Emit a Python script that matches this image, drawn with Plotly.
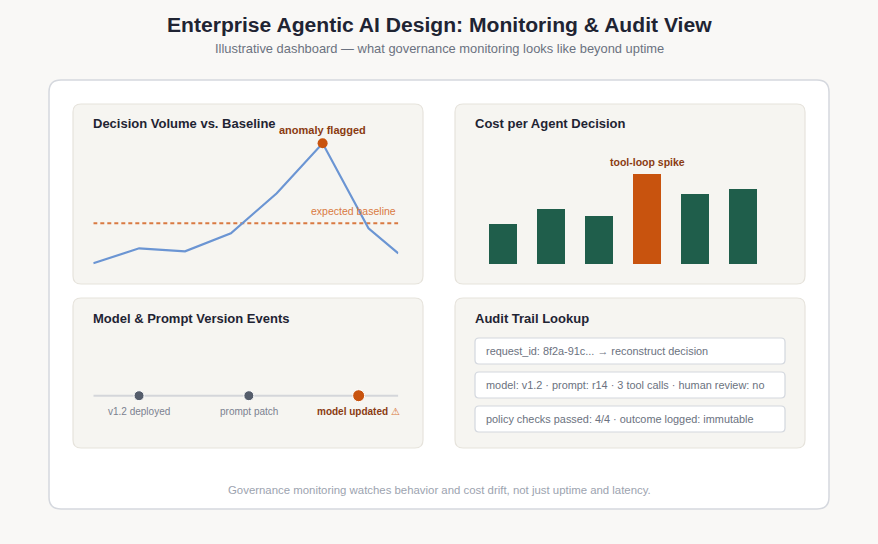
import plotly.graph_objects as go

# ---- data ----
hours = [0, 1, 2, 3, 4, 5, 6, 6.65]
decisions = [20, 35, 32, 50, 90, 140, 55, 30]
baseline = 60
anomaly_idx = 5

periods = ["W1", "W2", "W3", "W4", "W5", "W6"]
cost_per_decision = [0.40, 0.55, 0.48, 0.90, 0.70, 0.75]
spike_idx = 3

event_days = [1.5, 5.1, 8.7]
event_labels = ["v1.2 deployed", "prompt patch", "model updated"]
event_flagged = [False, False, True]

audit_rows = [
    "request_id: 8f2a-91c... \u2192 reconstruct decision",
    "model: v1.2 \u00b7 prompt: r14 \u00b7 3 tool calls \u00b7 human review: no",
    "policy checks passed: 4/4 \u00b7 outcome logged: immutable",
]

# ---- styling ----
W, H = 878, 544
FONT = "Liberation Sans, Arial, sans-serif"
DARK = "#1f2433"
GRAY = "#6b7280"
ORANGE = "#c8530e"
BROWN = "#8a3b12"
GREEN = "#1f5e4b"
BLUE = "#6b95d3"
PANEL_FILL = "#f6f5f1"
PANEL_LINE = "#e6e3dc"


def X(px):
    return px / W


def Y(py):
    return 1 - py / H


def rrect(x0, y0, x1, y1, r, fill, line, lw=1):
    # rounded rectangle in pixel coords -> paper path
    p = (f"M {X(x0 + r)},{Y(y0)} L {X(x1 - r)},{Y(y0)} Q {X(x1)},{Y(y0)} {X(x1)},{Y(y0 + r)} "
         f"L {X(x1)},{Y(y1 - r)} Q {X(x1)},{Y(y1)} {X(x1 - r)},{Y(y1)} "
         f"L {X(x0 + r)},{Y(y1)} Q {X(x0)},{Y(y1)} {X(x0)},{Y(y1 - r)} "
         f"L {X(x0)},{Y(y0 + r)} Q {X(x0)},{Y(y0)} {X(x0 + r)},{Y(y0)} Z")
    return dict(type="path", path=p, xref="paper", yref="paper",
                fillcolor=fill, line=dict(color=line, width=lw), layer="below")


def text(px, py, s, size, color, bold=False, xanchor="left"):
    return dict(x=X(px), y=Y(py), xref="paper", yref="paper", text=f"<b>{s}</b>" if bold else s,
                showarrow=False, xanchor=xanchor, yanchor="middle",
                font=dict(family=FONT, size=size, color=color))


fig = go.Figure()

# panel 1: decision volume line
fig.add_trace(go.Scatter(x=[hours[0], hours[-1]], y=[baseline, baseline], mode="lines",
                         line=dict(color="#d97a42", width=2, dash="4px,3px"),
                         xaxis="x", yaxis="y", hoverinfo="skip"))
fig.add_trace(go.Scatter(x=hours, y=decisions, mode="lines",
                         line=dict(color=BLUE, width=2.2), xaxis="x", yaxis="y"))
fig.add_trace(go.Scatter(x=[hours[anomaly_idx]], y=[decisions[anomaly_idx]], mode="markers",
                         marker=dict(color=ORANGE, size=10), xaxis="x", yaxis="y"))

# panel 2: cost bars
fig.add_trace(go.Bar(x=periods, y=cost_per_decision,
                     marker=dict(color=[ORANGE if i == spike_idx else GREEN for i in range(len(periods))],
                                 line=dict(width=0)),
                     xaxis="x2", yaxis="y2"))

# panel 3: version timeline
fig.add_trace(go.Scatter(x=[0, 10], y=[0, 0], mode="lines", line=dict(color="#d4d6da", width=2),
                         xaxis="x3", yaxis="y3", hoverinfo="skip"))
fig.add_trace(go.Scatter(x=event_days, y=[0] * len(event_days), mode="markers",
                         marker=dict(color=[ORANGE if f else "#555d6b" for f in event_flagged],
                                     size=[12 if f else 10 for f in event_flagged], opacity=1),
                         text=event_labels, xaxis="x3", yaxis="y3"))

hidden = dict(visible=False, showgrid=False, zeroline=False, fixedrange=True)
fig.update_layout(
    width=W, height=H, margin=dict(l=0, r=0, t=0, b=0),
    paper_bgcolor="#f9f8f6", plot_bgcolor="rgba(0,0,0,0)",
    showlegend=False, bargap=1 - 28 / 48,
    font=dict(family=FONT),
    xaxis=dict(hidden, domain=[X(93.3), X(398.3)], range=[hours[0], hours[-1]]),
    yaxis=dict(hidden, domain=[Y(283.3), Y(123.3)], range=[0, 160]),
    xaxis2=dict(hidden, domain=[X(479), X(767)], range=[-0.5, 5.5]),
    yaxis2=dict(hidden, domain=[Y(264), Y(144)], range=[0, 1.2]),
    xaxis3=dict(hidden, domain=[X(93.3), X(398.3)], range=[0, 10]),
    yaxis3=dict(hidden, domain=[Y(415.7), Y(375.7)], range=[-1, 1]),
)

shapes = [rrect(49, 80, 829, 509, 12, "#ffffff", "#d5d8de", 1.5)]
panels = [(73, 104, 423, 284), (455, 104, 805, 284), (73, 298, 423, 448), (455, 298, 805, 448)]
for x0, y0, x1, y1 in panels:
    shapes.append(rrect(x0, y0, x1, y1, 8, PANEL_FILL, PANEL_LINE, 1.2))
row_y = [(338, 364), (372, 398), (406, 432)]
for y0, y1 in row_y:
    shapes.append(rrect(475, y0, 785, y1, 4, "#ffffff", "#d3d7de", 1.2))
fig.update_layout(shapes=shapes)

ann = [
    text(439, 25, "Enterprise Agentic AI Design: Monitoring &amp; Audit View", 21.1, DARK, True, "center"),
    text(439, 48, "Illustrative dashboard \u2014 what governance monitoring looks like beyond uptime", 12.9, GRAY,
         False, "center"),
    text(91, 124, "Decision Volume vs. Baseline", 13, DARK, True),
    text(473, 124, "Cost per Agent Decision", 13, DARK, True),
    text(91, 318, "Model &amp; Prompt Version Events", 13, DARK, True),
    text(473, 318, "Audit Trail Lookup", 13, DARK, True),
    text(439, 490, "Governance monitoring watches behavior and cost drift, not just uptime and latency.", 11.4,
         "#9ca3af", False, "center"),
]
for (y0, y1), s in zip(row_y, audit_rows):
    ann.append(text(483.5, (y0 + y1) / 2, s, 10.9, GRAY))

ann.append(dict(x=hours[anomaly_idx], y=decisions[anomaly_idx], xref="x", yref="y",
                text="<b>anomaly flagged</b>", showarrow=False, yshift=13,
                font=dict(family=FONT, size=11, color=BROWN)))
ann.append(dict(x=hours[-1], y=baseline, xref="x", yref="y", text="expected baseline",
                showarrow=False, xanchor="right", yshift=12,
                font=dict(family=FONT, size=10.5, color="#d97a42")))
ann.append(dict(x=periods[spike_idx], y=cost_per_decision[spike_idx], xref="x2", yref="y2",
                text="<b>tool-loop spike</b>", showarrow=False, yshift=12,
                font=dict(family=FONT, size=10.5, color=BROWN)))
for d, lab, f in zip(event_days, event_labels, event_flagged):
    label = f"<b>{lab}</b> <span style='color:#d9773a'>\u26a0</span>" if f else lab
    ann.append(dict(x=d, y=0, xref="x3", yref="y3", text=label,
                    showarrow=False, yshift=-16,
                    font=dict(family=FONT, size=10, color=BROWN if f else "#7b8190")))
fig.update_layout(annotations=ann)

# drop the default 8px body margin so the figure fills the window
fig.write_html("out.html", config={"displayModeBar": False},
               post_script="document.body.style.margin='0';")
